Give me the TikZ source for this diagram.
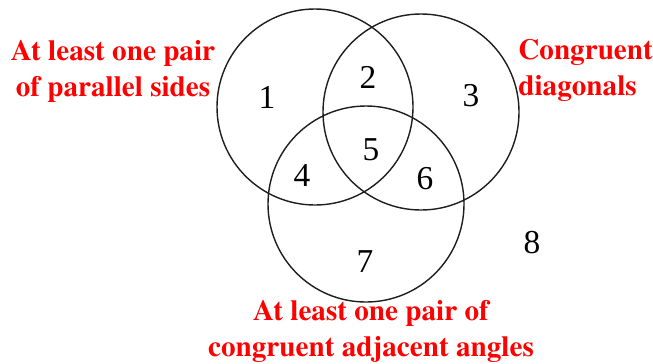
\documentclass[tikz,border=0pt]{standalone}
\usepackage{fontspec}
\setmainfont{Liberation Serif}
\newfontfamily\labelfont{texgyretermes-bold.otf}
\usepackage{tikz}
\usetikzlibrary{positioning}
\definecolor{SetRed}{RGB}{255,0,0}
\definecolor{RingBlack}{RGB}{30,30,30}

\begin{document}
\begin{tikzpicture}[regnum/.style={font=\fontsize{19}{22}\selectfont,inner sep=0pt},
  setname/.style={SetRed,font=\labelfont\fontsize{16.6}{20.5}\selectfont,inner sep=0pt}]
\useasboundingbox (0,0) rectangle (13.06,7.26);
\draw[RingBlack,line width=.8pt] (6.30,5.12) circle (1.96);
\draw[RingBlack,line width=.8pt] (8.42,5.02) circle (1.96);
\draw[RingBlack,line width=.8pt] (7.32,3.18) circle (1.96);
\foreach \n/\x/\y in {1/5.34/5.32,2/7.36/5.72,3/9.42/5.34,4/6.04/3.74,5/7.42/4.26,6/8.50/3.68,7/7.30/2.02,8/10.64/2.40}
  \node[regnum] (reg\n) at (\x,\y){\n};
\node[setname,align=center] (parallel) at (2.26,5.84){At least one pair\\of parallel sides};
\node[setname,align=left,anchor=west] (diagonals) at (10.36,5.86){Congruent\\diagonals};
\node[setname,align=center] (adjacent) at (7.42,0.64){At least one pair of\\congruent adjacent angles};
\end{tikzpicture}
\end{document}
